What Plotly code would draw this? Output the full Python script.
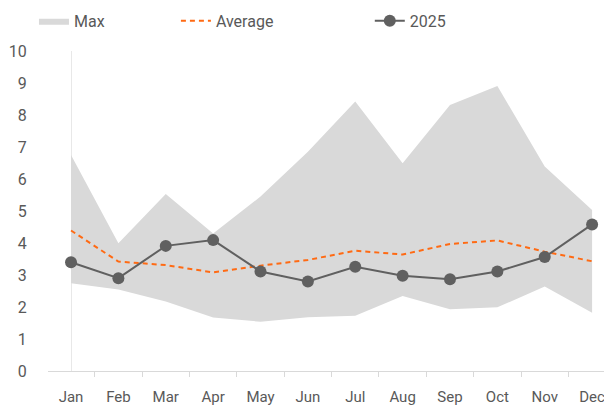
import plotly.graph_objects as go

months = ["Jan", "Feb", "Mar", "Apr", "May", "Jun", "Jul", "Aug", "Sep", "Oct", "Nov", "Dec"]
max_vals = [6.75, 3.99, 5.53, 4.30, 5.45, 6.85, 8.42, 6.49, 8.31, 8.91, 6.39, 5.03]
min_vals = [2.74, 2.55, 2.17, 1.67, 1.54, 1.68, 1.73, 2.34, 1.93, 1.99, 2.64, 1.82]
avg_vals = [4.39, 3.42, 3.31, 3.08, 3.29, 3.47, 3.76, 3.64, 3.97, 4.08, 3.73, 3.43]
y2025 = [3.40, 2.90, 3.91, 4.09, 3.11, 2.80, 3.26, 2.98, 2.87, 3.11, 3.56, 4.58]
y_ticks = list(range(0, 11))

xs = list(range(len(months)))
txt = "#595959"

fig = go.Figure()
fig.add_trace(go.Scatter(x=xs, y=min_vals, mode="lines", line=dict(width=0, color="#d9d9d9"),
                         showlegend=False, hoverinfo="skip"))
fig.add_trace(go.Scatter(x=xs, y=max_vals, mode="lines", fill="tonexty", fillcolor="#d9d9d9",
                         line=dict(width=0, color="#d9d9d9"), name="Max", legend="legend"))
fig.add_trace(go.Scatter(x=xs, y=avg_vals, mode="lines", name="Average", legend="legend2",
                         line=dict(color="#ff6a13", width=2, dash="5px,4px")))
fig.add_trace(go.Scatter(x=xs, y=y2025, mode="lines+markers", name="2025", legend="legend3",
                         line=dict(color="#606060", width=2),
                         marker=dict(size=12, color="#606060")))

leg_common = dict(orientation="h", xref="container", yref="container", xanchor="left",
                  yanchor="middle", y=0.968, font=dict(size=16, color=txt),
                  bgcolor="rgba(0,0,0,0)")

fig.update_layout(
    width=604, height=402,
    margin=dict(l=40, r=0, t=43, b=39, autoexpand=False),
    paper_bgcolor="white", plot_bgcolor="white",
    font=dict(family="Roboto", size=15, color=txt),
    legend=dict(x=0.043, **leg_common),
    legend2=dict(x=0.278, **leg_common),
    legend3=dict(x=0.599, **leg_common),
    showlegend=True,
)

fig.update_xaxes(
    range=[-0.486, 11.42], tickmode="array", tickvals=xs, ticktext=months,
    showgrid=False, showline=True, linecolor="#d9d9d9", linewidth=1,
    zeroline=True, zerolinecolor="#e8e8e8", zerolinewidth=1,
    ticks="outside", ticklen=12, tickcolor="rgba(0,0,0,0)",
    minor=dict(ticks="outside", tick0=-0.5, dtick=1, ticklen=5, tickcolor="#d9d9d9", showgrid=False),
    tickfont=dict(size=15, color=txt), automargin=False,
)
fig.update_yaxes(
    range=[0, 10], tickmode="array", tickvals=y_ticks,
    showgrid=False, zeroline=False, showline=False,
    ticks="outside", ticklen=17, tickcolor="rgba(0,0,0,0)",
    tickfont=dict(size=16, color=txt), automargin=False,
)

fig.write_html("out.html")
